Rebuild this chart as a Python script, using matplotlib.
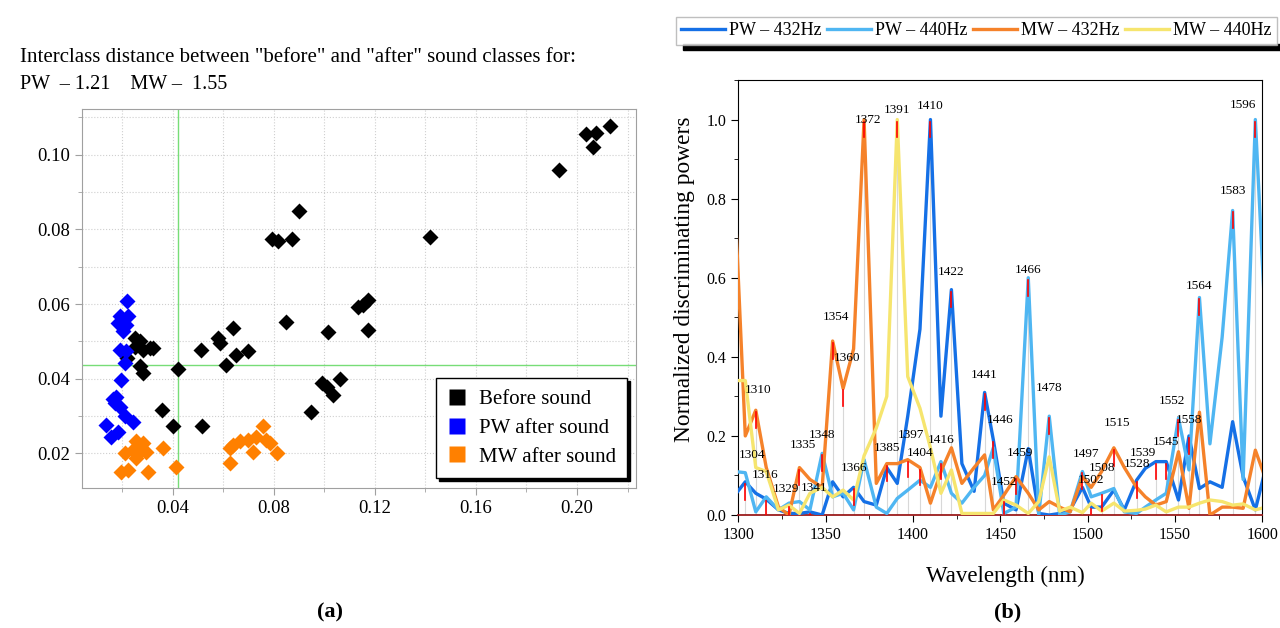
import matplotlib
matplotlib.use('Agg')
import matplotlib.pyplot as plt
from matplotlib.ticker import MultipleLocator
from matplotlib.lines import Line2D
from matplotlib.patches import Rectangle

plt.rcParams['font.family'] = ['Liberation Serif', 'DejaVu Serif']

# (a) class scatter
before_x = [0.2034, 0.2074, 0.2131, 0.2065, 0.1929, 0.1418, 0.1174, 0.1154, 0.1134, 0.1174,
            0.0899, 0.0793, 0.0817, 0.0872, 0.0250, 0.0269, 0.0282, 0.0309, 0.0322, 0.0250,
            0.0221, 0.0269, 0.0282, 0.0421, 0.0514, 0.0579, 0.0586, 0.0639, 0.0613, 0.0652,
            0.0698, 0.0850, 0.1015, 0.0989, 0.1009, 0.1061, 0.1035, 0.0949, 0.0358, 0.0401,
            0.0516]
before_y = [0.1056, 0.1058, 0.1078, 0.1022, 0.0958, 0.0781, 0.0611, 0.0598, 0.0593, 0.0531,
            0.0850, 0.0775, 0.0770, 0.0775, 0.0509, 0.0500, 0.0477, 0.0482, 0.0482, 0.0486,
            0.0455, 0.0433, 0.0415, 0.0426, 0.0477, 0.0509, 0.0495, 0.0537, 0.0437, 0.0464,
            0.0473, 0.0553, 0.0524, 0.0388, 0.0379, 0.0399, 0.0357, 0.0312, 0.0317, 0.0272,
            0.0274]
pw_x = [0.0220, 0.0190, 0.0223, 0.0183, 0.0217, 0.0203, 0.0190, 0.0215, 0.0210, 0.0197,
        0.0177, 0.0170, 0.0165, 0.0190, 0.0210, 0.0243, 0.0137, 0.0183, 0.0157]
pw_y = [0.0609, 0.0567, 0.0567, 0.0549, 0.0544, 0.0527, 0.0477, 0.0475, 0.0442, 0.0397,
        0.0352, 0.0335, 0.0345, 0.0325, 0.0299, 0.0285, 0.0276, 0.0258, 0.0245]
mw_x = [0.0256, 0.0282, 0.0210, 0.0243, 0.0263, 0.0296, 0.0256, 0.0362, 0.0197, 0.0223,
        0.0302, 0.0415, 0.0626, 0.0639, 0.0665, 0.0698, 0.0731, 0.0758, 0.0771, 0.0784,
        0.0718, 0.0811, 0.0626]
mw_y = [0.0232, 0.0227, 0.0200, 0.0209, 0.0200, 0.0205, 0.0187, 0.0214, 0.0151, 0.0156,
        0.0151, 0.0163, 0.0214, 0.0223, 0.0232, 0.0236, 0.0245, 0.0272, 0.0236, 0.0227,
        0.0205, 0.0202, 0.0174]
cut_x = 0.042
cut_y = 0.0436

# (b) discriminating powers
wavelength = [1298, 1304, 1310, 1316, 1323, 1329, 1335, 1341, 1348, 1354,
              1360, 1366, 1372, 1379, 1385, 1391, 1397, 1404, 1410, 1416,
              1422, 1428, 1435, 1441, 1446, 1452, 1459, 1466, 1472, 1478,
              1484, 1490, 1497, 1502, 1508, 1515, 1521, 1528, 1533, 1539,
              1545, 1552, 1558, 1564, 1570, 1577, 1583, 1589, 1596, 1602]
pw_432 = [0.050, 0.084, 0.055, 0.040, 0.013, 0.004, 0.004, 0.008, 0.000, 0.084,
          0.046, 0.070, 0.034, 0.025, 0.120, 0.080, 0.250, 0.470, 1.000, 0.250,
          0.570, 0.130, 0.060, 0.310, 0.190, 0.030, 0.013, 0.168, 0.004, 0.000,
          0.004, 0.013, 0.070, 0.020, 0.020, 0.063, 0.013, 0.088, 0.118, 0.135,
          0.135, 0.038, 0.200, 0.067, 0.084, 0.070, 0.236, 0.097, 0.013, 0.120]
pw_440 = [0.110, 0.107, 0.008, 0.046, 0.013, 0.030, 0.034, 0.013, 0.156, 0.046,
          0.055, 0.013, 0.140, 0.020, 0.004, 0.042, 0.063, 0.088, 0.070, 0.135,
          0.055, 0.030, 0.070, 0.100, 0.170, 0.004, 0.020, 0.600, 0.000, 0.250,
          0.000, 0.008, 0.110, 0.046, 0.055, 0.067, 0.008, 0.004, 0.020, 0.038,
          0.055, 0.245, 0.114, 0.550, 0.180, 0.450, 0.770, 0.090, 1.000, 0.460]
mw_432 = [0.800, 0.200, 0.265, 0.120, 0.020, 0.000, 0.120, 0.090, 0.070, 0.440,
          0.320, 0.420, 1.000, 0.080, 0.130, 0.130, 0.140, 0.120, 0.030, 0.110,
          0.170, 0.080, 0.120, 0.152, 0.013, 0.050, 0.097, 0.055, 0.013, 0.034,
          0.020, 0.008, 0.097, 0.070, 0.110, 0.170, 0.120, 0.070, 0.046, 0.025,
          0.034, 0.160, 0.017, 0.260, 0.000, 0.020, 0.020, 0.017, 0.164, 0.090]
mw_440 = [0.340, 0.340, 0.120, 0.110, 0.013, 0.025, 0.004, 0.055, 0.070, 0.046,
          0.063, 0.038, 0.150, 0.220, 0.300, 1.000, 0.350, 0.270, 0.170, 0.055,
          0.114, 0.004, 0.004, 0.004, 0.004, 0.038, 0.025, 0.004, 0.034, 0.147,
          0.010, 0.020, 0.006, 0.030, 0.010, 0.030, 0.010, 0.012, 0.015, 0.025,
          0.008, 0.020, 0.020, 0.030, 0.038, 0.034, 0.025, 0.028, 0.013, 0.020]

# labelled peaks: wavelength and the series it sits on
peak_wl = [1304, 1310, 1316, 1329, 1335, 1341, 1348, 1354, 1360, 1366,
           1372, 1385, 1391, 1397, 1404, 1410, 1416, 1422, 1441, 1446,
           1452, 1459, 1466, 1478, 1497, 1502, 1508, 1515, 1528, 1539,
           1545, 1552, 1558, 1564, 1583, 1596]
peak_series = ['PW \u2013 432Hz', 'MW \u2013 432Hz', 'PW \u2013 432Hz', 'MW \u2013 440Hz', 'MW \u2013 432Hz',
               'PW \u2013 432Hz', 'PW \u2013 440Hz', 'MW \u2013 432Hz', 'MW \u2013 432Hz', 'PW \u2013 432Hz',
               'MW \u2013 432Hz', 'MW \u2013 432Hz', 'MW \u2013 440Hz', 'MW \u2013 432Hz', 'MW \u2013 432Hz',
               'PW \u2013 432Hz', 'PW \u2013 440Hz', 'PW \u2013 432Hz', 'PW \u2013 432Hz', 'PW \u2013 432Hz',
               'MW \u2013 440Hz', 'MW \u2013 432Hz', 'PW \u2013 440Hz', 'PW \u2013 440Hz', 'PW \u2013 440Hz',
               'PW \u2013 432Hz', 'PW \u2013 440Hz', 'MW \u2013 432Hz', 'PW \u2013 432Hz', 'PW \u2013 432Hz',
               'PW \u2013 432Hz', 'PW \u2013 440Hz', 'PW \u2013 432Hz', 'PW \u2013 440Hz', 'PW \u2013 440Hz',
               'PW \u2013 440Hz']
# text offsets (nm, value) so the numbers don't collide
label_dx = [4, 1.5, -0.5, -1.5, 2, 2.5, 0, 2, 2, 0,
            2, 0, 0, 2, 0, 0, 0, 0, 0, 4,
            0, 2, 0, 0, 2, 0, 0.5, 2, 0, -7.5,
            0, -4, 0, 0, 0, -7]
label_dy = [0.068, 0.05, 0.062, 0.04, 0.057, 0.06, 0.046, 0.06, 0.078, 0.048,
            0.0, 0.04, 0.024, 0.062, 0.038, 0.034, 0.055, 0.045, 0.044, 0.05,
            0.046, 0.06, 0.02, 0.07, 0.045, 0.068, 0.063, 0.062, 0.042, 0.021,
            0.049, 0.043, 0.04, 0.029, 0.05, 0.038]

series = {
    'PW \u2013 432Hz': (pw_432, '#1570e6'),
    'PW \u2013 440Hz': (pw_440, '#4fb6f2'),
    'MW \u2013 432Hz': (mw_432, '#f5822a'),
    'MW \u2013 440Hz': (mw_440, '#f6e56e'),
}

fig = plt.figure(figsize=(12.8, 6.28), dpi=100)

# ---------- (a) ----------
ax = fig.add_axes([0.0638, 0.2234, 0.4328, 0.6026])
ax.set_xlim(0.004, 0.2232)
ax.set_ylim(0.0108, 0.1122)
ax.xaxis.set_major_locator(MultipleLocator(0.04))
ax.xaxis.set_minor_locator(MultipleLocator(0.02))
ax.yaxis.set_major_locator(MultipleLocator(0.02))
ax.yaxis.set_minor_locator(MultipleLocator(0.01))
ax.xaxis.set_major_formatter(lambda v, p: f'{v:.2f}')
ax.yaxis.set_major_formatter(lambda v, p: f'{v:.2f}')
ax.grid(which='both', ls=':', color='#cfcfcf', lw=0.8)
for s in ax.spines.values():
    s.set_color('#a0a0a0')
ax.tick_params(which='both', colors='#a0a0a0', labelcolor='black', labelsize=13.5)
ax.tick_params(which='major', length=5)
ax.tick_params(which='minor', length=3)
ax.axvline(cut_x, color='#77dd77', lw=1.0, zorder=2)
ax.axhline(cut_y, color='#77dd77', lw=1.0, zorder=2)

ax.plot(before_x, before_y, 'D', color='black', ms=8, mec='none', zorder=3)
ax.plot(pw_x, pw_y, 'D', color='#0000ff', ms=8, mec='none', zorder=3)
ax.plot(mw_x, mw_y, 'D', color='#ff8000', ms=8, mec='none', zorder=3)

handles = [Line2D([], [], ls='none', marker='s', ms=12, color=c, mec='none')
           for c in ['black', '#0000ff', '#ff8000']]
leg = ax.legend(handles, ['Before sound', 'PW after sound', 'MW after sound'],
                loc='lower right', bbox_to_anchor=(0.985, 0.025), fontsize=15,
                frameon=True, fancybox=False, edgecolor='black', framealpha=1,
                shadow={'color': 'black', 'alpha': 1},
                handlelength=0.9, handletextpad=0.6, labelspacing=0.45, borderpad=0.55,
                borderaxespad=0)
leg.get_frame().set_linewidth(1.0)

fig.text(0.016, 0.908, 'Interclass distance between "before" and "after" sound classes for:',
         fontsize=15, va='center')
fig.text(0.016, 0.866, 'PW  \u2013 1.21    MW \u2013  1.55', fontsize=14.5, va='center')
fig.text(0.258, 0.024, '(a)', fontsize=16, fontweight='bold', ha='center', va='center')

# ---------- (b) ----------
bx = fig.add_axes([0.5768, 0.1799, 0.4094, 0.6927])
bx.set_xlim(1300, 1600)
bx.set_ylim(0, 1.1)
bx.xaxis.set_major_locator(MultipleLocator(50))
bx.xaxis.set_minor_locator(MultipleLocator(25))
bx.yaxis.set_major_locator(MultipleLocator(0.2))
bx.yaxis.set_minor_locator(MultipleLocator(0.1))
bx.yaxis.set_major_formatter(lambda v, p: f'{v:.1f}')
bx.tick_params(which='both', labelsize=11.5)
bx.tick_params(which='major', length=5)
bx.tick_params(which='minor', length=3)
bx.spines['bottom'].set_color('#9b1c1c')
bx.spines['bottom'].set_linewidth(1.3)

lines = []
for name, (vals, col) in series.items():
    ln, = bx.plot(wavelength, vals, color=col, lw=2.4, label=name, zorder=3)
    lines.append(ln)

for wl, key, dx, dy in zip(peak_wl, peak_series, label_dx, label_dy):
    v = series[key][0][wavelength.index(wl)]
    bx.plot([wl, wl], [0, v], color='#d8d8d8', lw=0.8, zorder=1)
    bx.plot([wl, wl], [v - 0.045, v - 0.005], color='red', lw=1.2, zorder=4)
    bx.text(wl + dx, v + dy, str(wl), fontsize=9.5, ha='center', va='center', zorder=5)

bx.set_xlabel('Wavelength (nm)', fontsize=16.5)
bx.xaxis.set_label_coords(0.509, -0.117)
bx.set_ylabel('Normalized discriminating powers', fontsize=16.8)
bx.yaxis.set_label_coords(-0.082, 0.5425)
fig.text(0.7875, 0.024, '(b)', fontsize=16, fontweight='bold', ha='center', va='center')

fig.legend(handles=lines, loc='upper left', bbox_to_anchor=(0.528, 0.973), ncol=4,
           fontsize=13, frameon=True, fancybox=False, edgecolor='#b0b0b0',
           handlelength=2.45, handletextpad=0.2, columnspacing=0.3, borderpad=0.3,
           borderaxespad=0)
fig.patches.append(Rectangle((0.5336, 0.9204), 0.4664, 0.0091, transform=fig.transFigure,
                             color='black', zorder=0))

fig.savefig('out.png', dpi=100, facecolor='white')
